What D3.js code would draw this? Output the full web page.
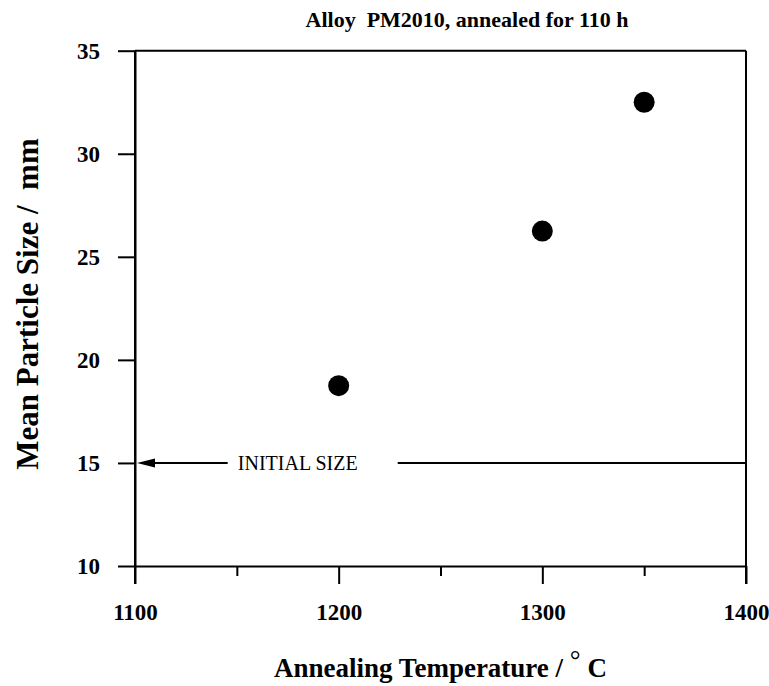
<!DOCTYPE html>
<html>
<head>
<meta charset="utf-8">
<script src="https://cdn.jsdelivr.net/npm/d3@7"></script>
<style>
  body { margin: 0; background: #fff; }
  svg text { font-family: "Liberation Serif", "DejaVu Serif", serif; fill: #000; }
</style>
</head>
<body>
<div id="chart"></div>
<script>
// data
const temps = [1200, 1300, 1350];
const sizes = [18.75, 26.25, 32.5];
const xTicks = [1100, 1200, 1300, 1400];
const xMinorTicks = [1150, 1250, 1350];
const yTicks = [10, 15, 20, 25, 30, 35];
const initialSize = 15;
// where the INITIAL SIZE note sits along the line (in °C)
const noteArrowEnd = 1145.5;
const noteTextStart = 1150.5;
const noteLineResume = 1229;

const W = 769, H = 686;
const margin = { top: 50.7, right: 23, bottom: 120, left: 135 };
const width = W - margin.left - margin.right,
      height = H - margin.top - margin.bottom;

const svg = d3.select("#chart")
  .append("svg")
  .attr("width", W)
  .attr("height", H);

const g = svg.append("g")
  .attr("transform", `translate(${margin.left},${margin.top})`);

const x = d3.scaleLinear().domain([1100, 1400]).range([0, width]);
const y = d3.scaleLinear().domain([10, 35]).range([height, 0]);

// x axis
const xAxis = g.append("g")
  .attr("transform", `translate(0,${height})`)
  .call(d3.axisBottom(x).tickValues(xTicks).tickSize(18).tickSizeOuter(0).tickPadding(20).tickFormat(d3.format("d")));
xAxis.selectAll("text").style("font-size", "23px").style("font-weight", "bold");

g.append("g")
  .attr("transform", `translate(0,${height})`)
  .call(d3.axisBottom(x).tickValues(xMinorTicks).tickSize(10).tickSizeOuter(0).tickFormat(""))
  .select(".domain").remove();

// y axis
const yAxis = g.append("g")
  .call(d3.axisLeft(y).tickValues(yTicks).tickSize(17).tickSizeOuter(0).tickPadding(18).tickFormat(d3.format("d")));
yAxis.selectAll("text").style("font-size", "23px").style("font-weight", "bold");

svg.selectAll(".domain, .tick line").attr("stroke", "#000").attr("stroke-width", 2);

// frame: top, right and left edges
g.append("line").attr("x1", 0).attr("x2", width).attr("y1", 0).attr("y2", 0)
  .attr("stroke", "#000").attr("stroke-width", 2);
g.append("line").attr("x1", width).attr("x2", width).attr("y1", 0).attr("y2", height + 18)
  .attr("stroke", "#000").attr("stroke-width", 2);
g.append("line").attr("x1", 0).attr("x2", 0).attr("y1", 0).attr("y2", height + 18)
  .attr("stroke", "#000").attr("stroke-width", 2);

// initial size line with arrow pointing at the y axis
const yInit = y(initialSize);
const tipX = x(1100) + 2;
g.append("path")
  .attr("d", `M${tipX},${yInit} L${tipX + 18},${yInit - 4.5} L${tipX + 18},${yInit + 4.5} Z`)
  .attr("fill", "#000");

g.append("line")
  .attr("x1", tipX + 10).attr("x2", x(noteArrowEnd))
  .attr("y1", yInit).attr("y2", yInit)
  .attr("stroke", "#000").attr("stroke-width", 2);

g.append("line")
  .attr("x1", x(noteLineResume)).attr("x2", x(1400))
  .attr("y1", yInit).attr("y2", yInit)
  .attr("stroke", "#000").attr("stroke-width", 2);

g.append("text")
  .attr("x", x(noteTextStart))
  .attr("y", yInit)
  .attr("dy", "0.35em")
  .style("font-size", "20px")
  .text("INITIAL SIZE");

// points
g.selectAll(".pt")
  .data(temps.map((t, i) => ({ t, s: sizes[i] })))
  .enter()
  .append("circle")
  .attr("class", "pt")
  .attr("cx", d => x(d.t))
  .attr("cy", d => y(d.s))
  .attr("r", 10.5)
  .attr("fill", "#000");

// titles
svg.append("text")
  .attr("x", 467).attr("y", 27)
  .attr("text-anchor", "middle")
  .style("font-size", "22px").style("font-weight", "bold")
  .attr("xml:space", "preserve")
  .text("Alloy  PM2010, annealed for 110 h");

const xt = svg.append("text")
  .attr("x", margin.left + width / 2).attr("y", 677)
  .attr("text-anchor", "middle")
  .style("font-size", "27px").style("font-weight", "bold")
  .attr("xml:space", "preserve");
xt.append("tspan").text("Annealing Temperature / ");
xt.append("tspan").attr("dy", -8).style("font-weight", "normal").text("°");
xt.append("tspan").attr("dy", 8).text(" C");

svg.append("text")
  .attr("transform", `translate(38,304) rotate(-90)`)
  .attr("text-anchor", "middle")
  .style("font-size", "31px").style("font-weight", "bold")
  .attr("xml:space", "preserve")
  .text("Mean Particle Size /  mm");
</script>
</body>
</html>
